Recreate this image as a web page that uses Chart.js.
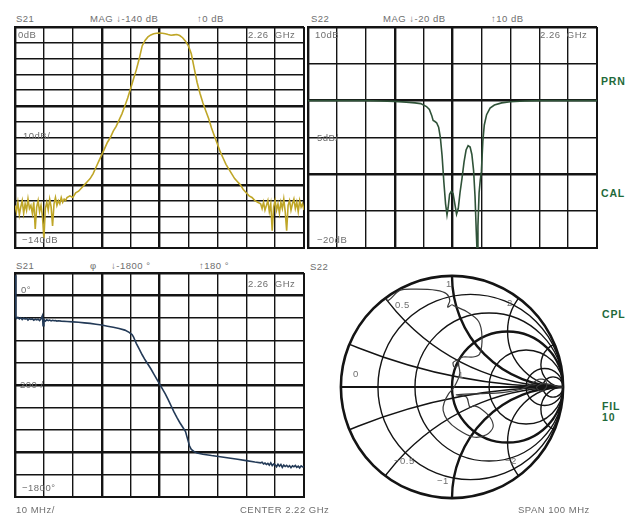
<!DOCTYPE html>
<html>
<head>
<meta charset="utf-8">
<script src="https://cdn.jsdelivr.net/npm/chart.js@4.4.1/dist/chart.umd.min.js"></script>
<style>
  html, body { margin: 0; padding: 0; background: #fff; }
  #page { position: relative; width: 626px; height: 519px; overflow: hidden;
          font-family: "Liberation Sans", Arial, sans-serif; }
  #page canvas { position: absolute; }
  .t { position: absolute; font-size: 9.5px; line-height: 10px; color: #6e6e6e;
       white-space: nowrap; letter-spacing: 0.5px; }
  .g { position: absolute; font-size: 10.5px; line-height: 11px; color: #1f6a3a;
       font-weight: bold; white-space: nowrap; letter-spacing: 0.8px; }
</style>
</head>
<body>
<div id="page">
  <canvas id="c-mag" width="291" height="223" style="left:14px;top:26px"></canvas>
  <canvas id="c-ret" width="291" height="223" style="left:307px;top:26px"></canvas>
  <canvas id="c-phase" width="291" height="226" style="left:14px;top:272px"></canvas>
  <canvas id="c-smith" width="240" height="240" style="left:332px;top:267px"></canvas>

  <!-- panel headers -->
  <div class="t" style="left:16px;top:14px">S21</div>
  <div class="t" style="left:90px;top:14px">MAG ↓-140 dB</div>
  <div class="t" style="left:197px;top:14px">↑0 dB</div>
  <div class="t" style="left:311px;top:14px">S22</div>
  <div class="t" style="left:383px;top:14px">MAG ↓-20 dB</div>
  <div class="t" style="left:491px;top:14px">↑10 dB</div>
  <div class="t" style="left:16px;top:261px">S21</div>
  <div class="t" style="left:90px;top:261px">φ</div>
  <div class="t" style="left:111px;top:261px">↓-1800 °</div>
  <div class="t" style="left:199px;top:261px">↑180 °</div>
  <div class="t" style="left:310px;top:262px">S22</div>

  <!-- labels inside the grids -->
  <div class="t" style="left:18px;top:30px">0dB</div>
  <div class="t" style="left:248px;top:30px">2.26&nbsp;&nbsp;GHz</div>
  <div class="t" style="left:23px;top:131px">10dB/</div>
  <div class="t" style="left:22px;top:235px">−140dB</div>
  <div class="t" style="left:315px;top:30px">10dB</div>
  <div class="t" style="left:540px;top:30px">2.26&nbsp;&nbsp;GHz</div>
  <div class="t" style="left:317px;top:133px">5dB/</div>
  <div class="t" style="left:317px;top:235px">−20dB</div>
  <div class="t" style="left:21px;top:285px">0°</div>
  <div class="t" style="left:248px;top:279px">2.26&nbsp;&nbsp;GHz</div>
  <div class="t" style="left:20px;top:380px">200 /</div>
  <div class="t" style="left:22px;top:483px">−1800°</div>

  <!-- smith chart labels -->
  <div class="t" style="left:395px;top:300px">0.5</div>
  <div class="t" style="left:446px;top:279px">1</div>
  <div class="t" style="left:507px;top:298px">2</div>
  <div class="t" style="left:353px;top:369px">0</div>
  <div class="t" style="left:458px;top:370px">1</div>
  <div class="t" style="left:394px;top:456px">−0.5</div>
  <div class="t" style="left:437px;top:476px">−1</div>
  <div class="t" style="left:505px;top:456px">−2</div>

  <!-- footer -->
  <div class="t" style="left:16px;top:505px">10 MHz/</div>
  <div class="t" style="left:240px;top:505px">CENTER 2.22 GHz</div>
  <div class="t" style="left:518px;top:505px">SPAN 100 MHz</div>

  <!-- softkey annotations -->
  <div class="g" style="left:601px;top:76px">PRN</div>
  <div class="g" style="left:601px;top:188px">CAL</div>
  <div class="g" style="left:602px;top:309px">CPL</div>
  <div class="g" style="left:602px;top:401px">FIL</div>
  <div class="g" style="left:602px;top:412px">10</div>
</div>

<script>
// frequency offsets are MHz from the 2.22 GHz centre

// S21 log magnitude, dB
var magFreq = [-50, -49.5, -49, -48.5, -48, -47.5, -47, -46.5, -46, -45.5, -45, -44.5, -44, -43.5, -43, -42.5,
  -42, -41.5, -41, -40.5, -40, -39.5, -39, -38.5, -38, -37.5, -37, -36.5, -36, -35.5, -35, -34.5, -34, -33.5,
  -33, -32.5, -32,
  -31, -30, -29, -28, -27, -26, -25, -24, -23, -22, -21, -20, -19, -18, -17, -16, -15, -14, -13, -12, -11, -10,
  -9, -8, -7, -6, -5, -4, -3, -2, -1, 0, 1, 2, 3, 4, 5, 6, 7, 8, 9, 10, 11, 12, 13, 14, 15, 16, 17, 18, 19, 20,
  21, 22, 23, 24, 25, 26, 27, 28, 29, 30, 31, 32, 33, 34, 35,
  35.5, 36, 36.5, 37, 37.5, 38, 38.5, 39, 39.5, 40, 40.5, 41, 41.5, 42, 42.5, 43, 43.5, 44, 44.5, 45, 45.5, 46,
  46.5, 47, 47.5, 48, 48.5, 49, 49.5, 50];
var magDb = [-113, -117, -111, -119, -114, -110, -118, -112, -116, -109, -115, -113, -118, -111, -128, -114,
  -110, -117, -113, -120, -134, -115, -111, -116, -109, -114, -126, -112, -108, -113, -110, -112, -108, -111,
  -109, -110, -108,
  -107, -108, -105, -104, -102, -100, -98, -96, -93, -89, -85, -81, -77, -73, -70, -66, -63, -59, -55, -50, -45, -39,
  -33, -27, -20, -12, -8.5, -6.3, -5, -4.3, -4, -3.8, -4, -4.3, -4.8, -5.2, -5, -4.8, -5.4, -6.8, -9, -12, -17, -26,
  -35, -42, -48, -53, -58, -64, -69, -74, -79, -83, -87, -90, -93, -96, -98, -100, -103, -105, -107, -108, -110, -111, -112,
  -115, -111, -116, -113, -110, -117, -112, -129, -114, -110, -116, -112, -118, -111, -115, -109, -117, -129, -113,
  -110, -116, -112, -109, -115, -111, -117, -110, -114, -112, -116];

// S22 log magnitude, dB
var retFreq = [-50, -40, -30, -25, -20, -16, -13, -11, -9, -8, -7.2, -6.7, -6.2, -5.5, -4.8, -4.2, -3.6, -3, -2.4,
  -1.9, -1.5, -1, -0.4, 0.2, 0.8, 1.4, 2, 2.6, 3.3, 4, 4.7, 5.4, 6.1, 6.7, 7.3, 7.8, 8.2, 8.5, 8.8, 9.2, 9.6, 10,
  10.5, 11, 11.8, 13, 14.5, 17, 20, 25, 30, 40, 50];
var retDb = [0, 0, 0, -0.05, -0.1, -0.2, -0.3, -0.4, -0.8, -1.2, -2, -2.7, -2.8, -3, -3.6, -5, -7.5, -11, -14,
  -15.5, -14.5, -12.7, -12.3, -12.6, -14, -15.4, -14.6, -12.5, -10.5, -8.3, -6.7, -6.1, -6.3, -7.3, -9.5, -13, -17.5,
  -20.5, -17, -12.5, -10.8, -9.6, -5.5, -3.3, -1.9, -1, -0.6, -0.3, -0.15, -0.05, 0, 0, 0];

// S21 phase, degrees
var phFreq = [-50, -49.7, -49.5, -49, -48.5, -48, -47.5, -47, -46.5, -46, -45.5, -45, -44.5, -44, -43.5, -43,
  -42.5, -42, -41.5, -41, -40.5, -40.3, -40, -39.5, -39, -38.5, -38, -37.5, -37, -36.5, -36, -35.5, -35,
  -34, -32, -30, -28, -26, -24, -22, -20, -18, -16, -14, -12, -10.5, -9.5, -9, -8.5, -8, -7, -6, -5, -4, -3, -2,
  -1, 0, 1, 2, 3, 4, 5, 6, 7, 8, 9, 9.8, 10.4, 11, 12, 13, 15, 18, 21, 24, 27, 30, 33, 35,
  35.5, 36, 36.5, 37, 37.5, 38, 38.5, 39, 39.5, 40, 40.5, 41, 41.5, 42, 42.5, 43, 43.5, 44, 44.5, 45, 45.5, 46,
  46.5, 47, 47.5, 48, 48.5, 49, 49.5, 50];
var phDeg = [180, -190, -205, -195, -210, -200, -215, -203, -212, -205, -220, -208, -214, -210, -222, -212,
  -218, -213, -225, -210, -180, -270, -215, -230, -218, -225, -220, -228, -222, -226, -224, -229, -226,
  -230, -233, -236, -240, -245, -250, -257, -265, -275, -285, -295, -310, -330, -350, -370, -400, -430, -480, -530,
  -575, -615, -655, -700, -745, -790, -835, -880, -930, -985, -1040, -1090, -1135, -1175, -1215, -1290, -1345,
  -1375, -1395, -1408, -1418, -1430, -1440, -1452, -1463, -1475, -1488, -1495,
  -1490, -1505, -1497, -1510, -1500, -1515, -1495, -1520, -1505, -1512, -1530, -1508, -1525, -1510, -1535, -1515,
  -1528, -1518, -1532, -1520, -1538, -1522, -1530, -1518, -1535, -1525, -1540, -1522, -1532, -1528];

// S22 on the Smith chart, reflection coefficient
var smithRe = [-0.60, -0.57, -0.47, -0.32, -0.14, -0.05, -0.02, -0.04, 0.00, 0.02, 0.13, 0.24, 0.27, 0.25, 0.19,
  0.10, 0.04, 0.01, 0.02, 0.06, 0.05, 0.07, 0.02, -0.03, -0.07, -0.08, -0.04, 0.05, 0.19, 0.31, 0.37, 0.34, 0.25,
  0.20, 0.16, 0.13, 0.04, 0.25, 0.45, 0.62, 0.72, 0.78, 0.84, 0.85, 0.80, 0.76, 0.82, 0.90, 0.96, 1.0];
var smithIm = [0.79, 0.78, 0.87, 0.88, 0.87, 0.84, 0.78, 0.72, 0.74, 0.73, 0.68, 0.59, 0.45, 0.30, 0.27,
  0.27, 0.24, 0.22, 0.18, 0.20, 0.24, 0.12, 0.0, -0.06, -0.14, -0.21, -0.30, -0.38, -0.45, -0.43, -0.36, -0.27, -0.19,
  -0.17, -0.18, -0.09, -0.07, -0.06, -0.05, -0.02, 0.03, 0.07, 0.06, 0.0, -0.04, 0.0, 0.03, 0.02, 0.0, 0.0];

// Smith grid: resistance circles and reactance arcs
var smithR = [0.2, 0.5, 1, 2, 5, 10];
var smithX = [0.2, 0.5, 1, 2, 5, -0.2, -0.5, -1, -2, -5];

(function () {
  "use strict";

  var INK = "#141414";

  function pairs(xs, ys) {
    return xs.map(function (x, i) { return { x: x, y: ys[i] }; });
  }

  function gridWidth(thick) {
    return function (c) {
      if (!c.tick) return 1.4;
      var v = c.tick.value;
      if (thick.indexOf(v) >= 0) return 2.4;
      return 1.4;
    };
  }

  function rectChart(id, xs, ys, yMin, yMax, yStep, color, thickY) {
    return new Chart(document.getElementById(id), {
      type: "line",
      data: {
        datasets: [{
          data: pairs(xs, ys),
          borderColor: color,
          borderWidth: 1.6,
          pointRadius: 0,
          tension: 0,
          fill: false
        }]
      },
      options: {
        responsive: false,
        animation: false,
        events: [],
        layout: { padding: 1 },
        plugins: { legend: { display: false }, tooltip: { enabled: false } },
        scales: {
          x: {
            type: "linear", min: -50, max: 50,
            ticks: { display: false, stepSize: 10 },
            grid: { drawTicks: false, color: INK, lineWidth: gridWidth([-50, -20, 0, 50]) },
            border: { color: INK, width: 2 }
          },
          y: {
            type: "linear", min: yMin, max: yMax,
            ticks: { display: false, stepSize: yStep },
            grid: { drawTicks: false, color: INK, lineWidth: gridWidth([yMin, yMax].concat(thickY)) },
            border: { color: INK, width: 2 }
          }
        }
      }
    });
  }

  rectChart("c-mag", magFreq, magDb, -140, 0, 10, "#bfa627", [-50, -100]);
  rectChart("c-ret", retFreq, retDb, -20, 10, 5, "#2f5238", [0, -10]);
  rectChart("c-phase", phFreq, phDeg, -1800, 200, 200, "#233a57", [0, -800, -1400]);

  var smithGrid = {
    id: "smithGrid",
    beforeDatasetsDraw: function (chart) {
      var ctx = chart.ctx, xs = chart.scales.x, ys = chart.scales.y;
      var cx = xs.getPixelForValue(0), cy = ys.getPixelForValue(0);
      var R = xs.getPixelForValue(1) - cx;
      ctx.save();
      ctx.strokeStyle = INK;
      ctx.beginPath();
      ctx.arc(cx, cy, R, 0, Math.PI * 2);
      ctx.clip();
      smithR.forEach(function (r) {
        ctx.lineWidth = r === 1 ? 2.4 : 1.4;
        ctx.beginPath();
        ctx.arc(xs.getPixelForValue(r / (1 + r)), cy, R / (1 + r), 0, Math.PI * 2);
        ctx.stroke();
      });
      smithX.forEach(function (x) {
        ctx.lineWidth = Math.abs(x) === 1 ? 2.4 : 1.4;
        ctx.beginPath();
        ctx.arc(xs.getPixelForValue(1), ys.getPixelForValue(1 / x), R / Math.abs(x), 0, Math.PI * 2);
        ctx.stroke();
      });
      ctx.lineWidth = 2.2;
      ctx.beginPath();
      ctx.moveTo(cx - R, cy);
      ctx.lineTo(cx + R, cy);
      ctx.stroke();
      ctx.restore();

      ctx.save();
      ctx.strokeStyle = INK;
      ctx.lineWidth = 2.6;
      ctx.beginPath();
      ctx.arc(cx, cy, R, 0, Math.PI * 2);
      ctx.stroke();
      ctx.restore();
    }
  };

  new Chart(document.getElementById("c-smith"), {
    type: "scatter",
    data: {
      datasets: [{
        data: pairs(smithRe, smithIm),
        showLine: true,
        borderColor: "#3a3a3a",
        borderWidth: 1.2,
        pointRadius: 0,
        tension: 0.3
      }]
    },
    options: {
      responsive: false,
      animation: false,
      events: [],
      layout: { padding: 0 },
      plugins: { legend: { display: false }, tooltip: { enabled: false } },
      scales: {
        x: { type: "linear", min: -1.08, max: 1.08, display: false },
        y: { type: "linear", min: -1.08, max: 1.08, display: false }
      }
    },
    plugins: [smithGrid]
  });
})();
</script>
</body>
</html>
